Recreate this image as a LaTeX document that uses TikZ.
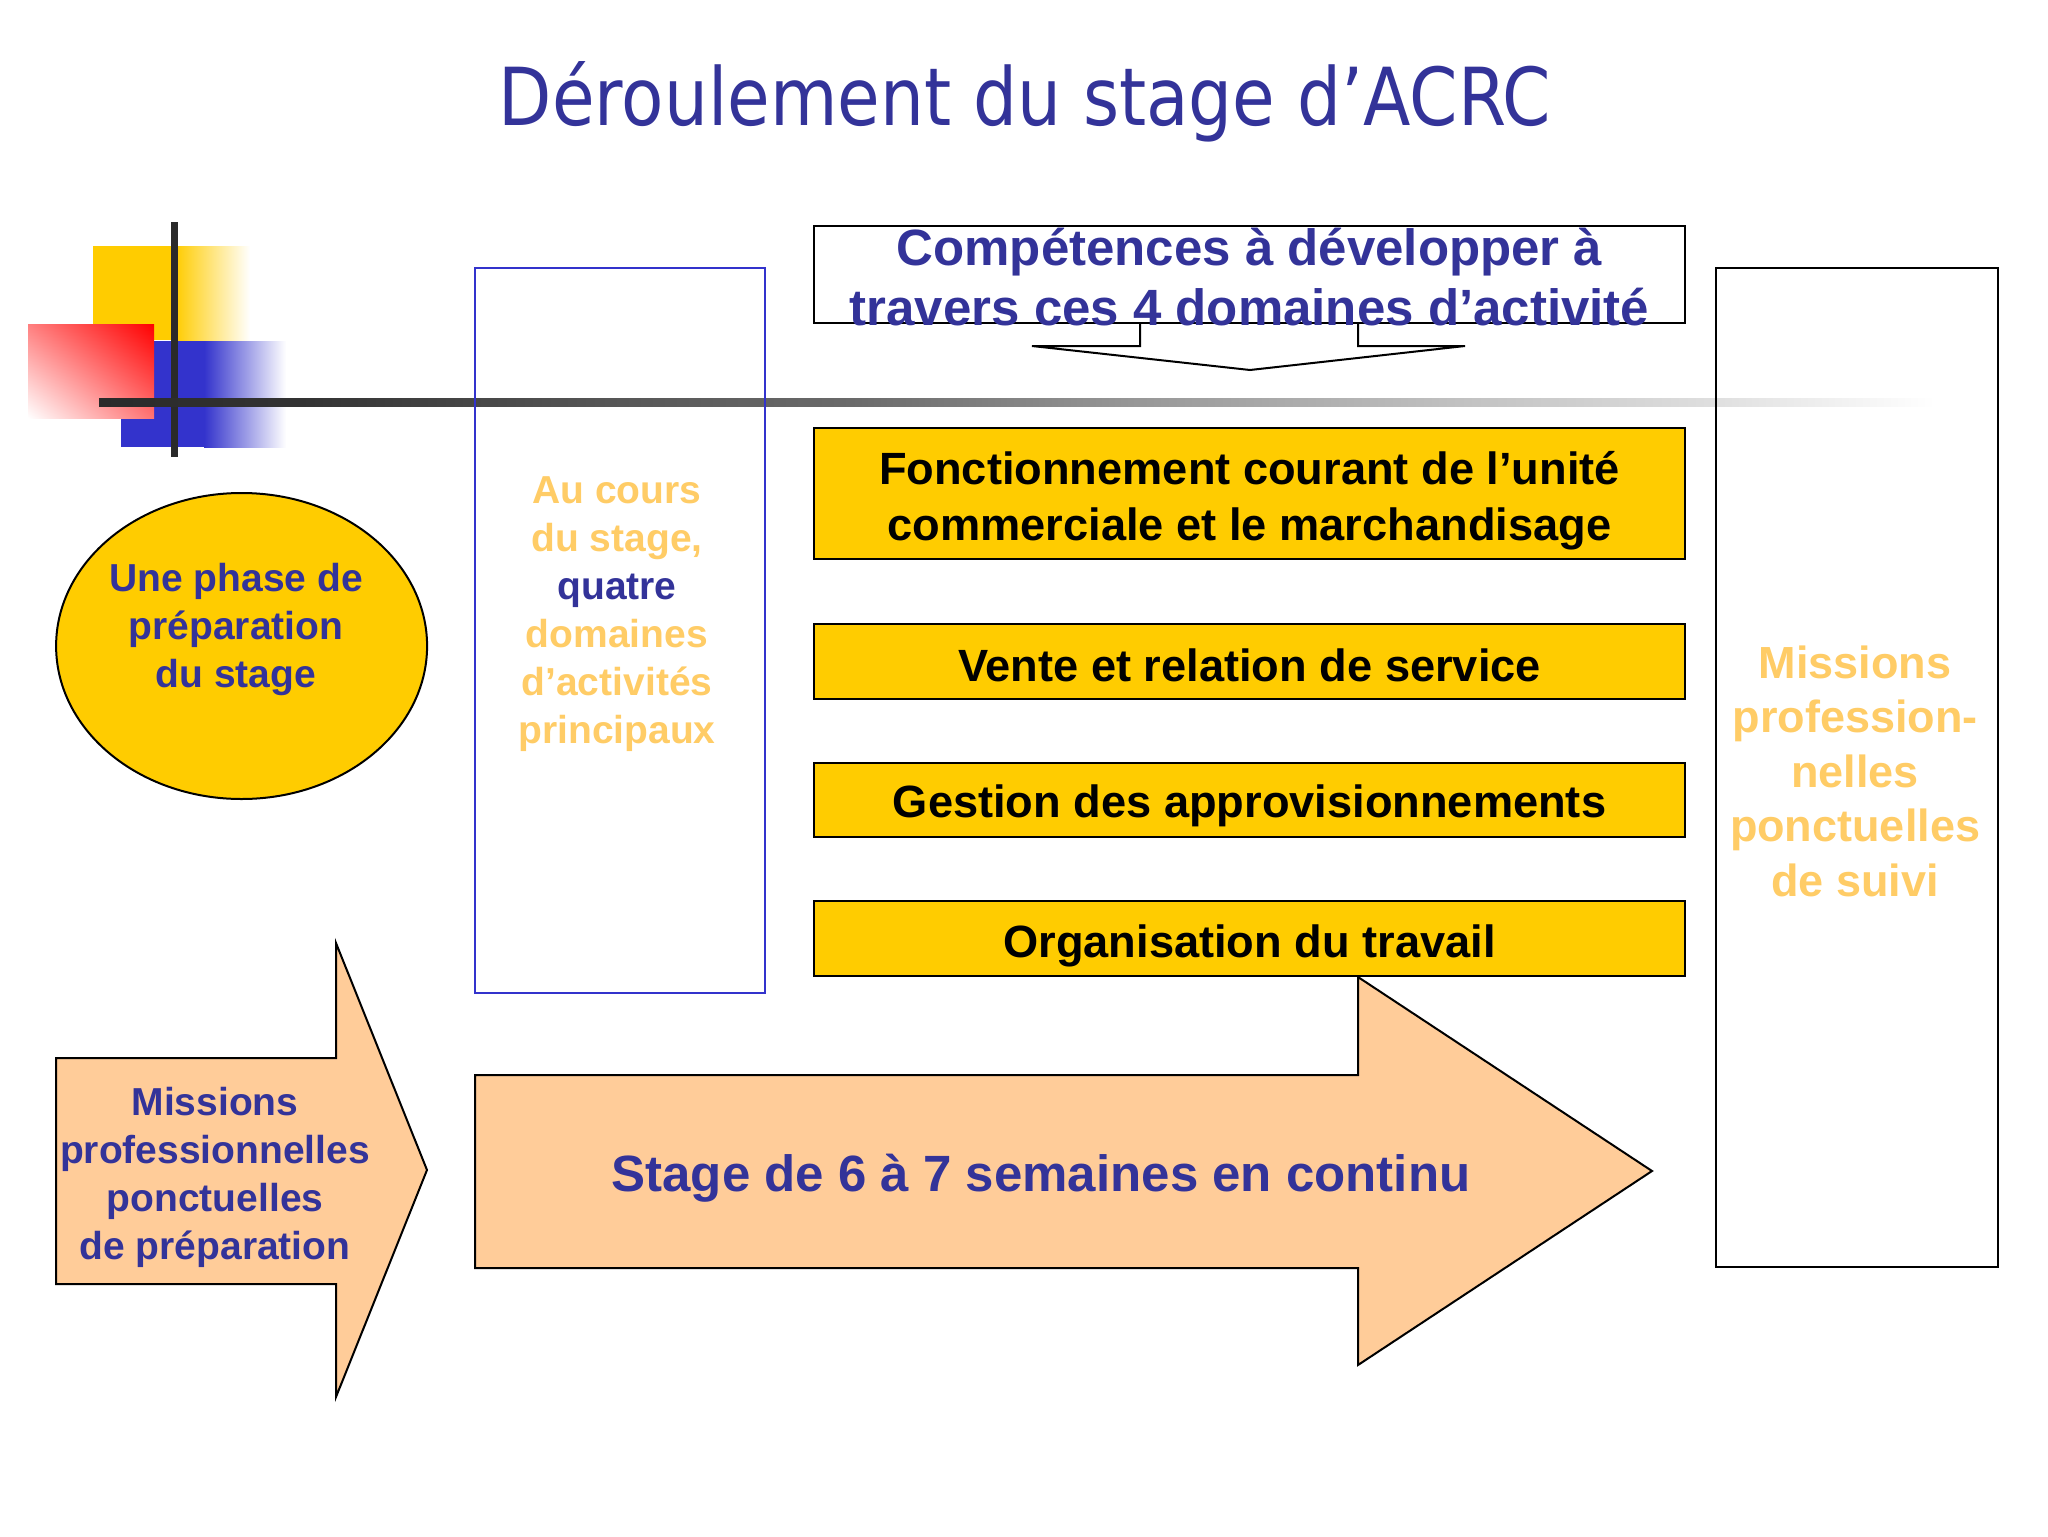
\documentclass[tikz,border=0pt]{standalone}
\usepackage{graphicx}
\usepackage{fontspec}
\setmainfont{Liberation Sans}
\newfontfamily\titlefont{DejaVu Sans}
\usetikzlibrary{shapes.geometric,shadings}
\definecolor{navy}{HTML}{333399}
\definecolor{gold}{HTML}{FFCC00}
\definecolor{lgold}{HTML}{FFCC66}
\definecolor{peach}{HTML}{FFCC99}
\definecolor{boxblue}{HTML}{3333CC}
\definecolor{bar}{HTML}{2A2A2A}
\definecolor{barA}{HTML}{333333}
\definecolor{barB}{HTML}{555555}
\definecolor{barC}{HTML}{6A6A6A}
\definecolor{barD}{HTML}{999999}
\definecolor{barE}{HTML}{C0C0C0}
\definecolor{barF}{HTML}{DDDDDD}
\pgfdeclarehorizontalshading{barshade}{100bp}{color(0bp)=(bar); color(25bp)=(bar); color(30.5bp)=(barA); color(38.6bp)=(barB); color(45.5bp)=(barC); color(53.6bp)=(barD); color(61.8bp)=(barE); color(68.6bp)=(barF); color(75bp)=(white); color(100bp)=(white)}
\tikzset{
  ybox/.style={draw=black, line width=1pt, fill=gold, minimum width=435.5pt, inner sep=0pt},
  ytext/.style={font=\bfseries\fontsize{22.6}{28}\selectfont, text=black, align=center},
  shapeline/.style={draw=black, line width=1pt},
}
\begin{document}
\begin{tikzpicture}[x=0.5pt,y=-0.5pt]
\useasboundingbox (0,0) rectangle (2048,1536);
\fill[white] (0,0) rectangle (2048,1536);

% title
\node[text=navy, font=\titlefont\fontsize{40}{48}\selectfont] (title) at (1025,102) {\scalebox{0.866}[1]{Déroulement du stage d’ACRC}};

% decoration
\fill[gold] (93,246) rectangle (176,340);
\shade[left color=gold, right color=white] (175,246) rectangle (250,340);
\fill[boxblue] (121,341) rectangle (205,447);
\shade[left color=boxblue, right color=white] (204,341) rectangle (286,447);
\shade[upper right=red, lower left=white, upper left=red!50!white, lower right=red!55!white] (28,324) rectangle (154,418);
\draw[bar, line width=3.5pt] (174,222) -- (174,457);
\shade[shading=barshade] (99,398) rectangle (1935,406);

% left column
\node[ellipse, draw=black, line width=1pt, fill=gold, minimum width=185.5pt, minimum height=153pt, inner sep=0pt] (phase) at (241.6,646) {};
\node[text=navy, font=\bfseries\fontsize{19.5}{24}\selectfont, align=center] (phasetxt) at (236,629) {Une phase de\\préparation\\du stage};

\draw[shapeline, fill=peach] (56,1058) -- (336,1058) -- (336,943) -- (427,1170) -- (336,1397) -- (336,1284) -- (56,1284) -- cycle;
\node[text=navy, font=\bfseries\fontsize{19.5}{24}\selectfont, align=center] (mprep) at (215,1177) {Missions\\professionnelles\\ponctuelles\\de préparation};

% blue box
\node[draw=boxblue, line width=1pt, minimum width=145pt, minimum height=362.5pt, inner sep=0pt] (cours) at (620,630.5) {};
\node[text=lgold, font=\bfseries\fontsize{19.5}{24}\selectfont, align=center] (courstxt) at (617,614) {Au cours\\du stage,\\\textcolor{navy}{quatre}\\domaines\\d’activités\\principaux};

% competences
\node[draw=black, line width=1pt, fill=white, minimum width=435.5pt, minimum height=48.5pt, inner sep=0pt] (comp) at (1249.5,274.5) {};
\draw[shapeline] (1140,323) -- (1140,346) -- (1032,346) -- (1250,370) -- (1465,346) -- (1358,346) -- (1358,323);
\node[text=navy, font=\bfseries\fontsize{25.5}{30}\selectfont, align=center] (comptxt) at (1249.5,277) {Compétences à développer à\\travers ces 4 domaines d’activité};

% yellow boxes
\node[ybox, minimum height=65.5pt] (d1) at (1249.5,493.5) {};
\node[ybox, minimum height=37.5pt] (d2) at (1249.5,661.5) {};
\node[ybox, minimum height=37pt] (d3) at (1249.5,800) {};
\node[ybox, minimum height=37.5pt] (d4) at (1249.5,938.5) {};
\node[ytext] (t1) at (1249.5,500.5) {Fonctionnement courant de l’unité\\commerciale et le marchandisage};
\node[ytext] (t2) at (1249.5,665.5) {Vente et relation de service};
\node[ytext] (t3) at (1249.5,806) {Gestion des approvisionnements};
\node[ytext] (t4) at (1249.5,945.5) {Organisation du travail};

% big arrow
\draw[shapeline, fill=peach] (475,1075) -- (1358,1075) -- (1358,977) -- (1652,1171) -- (1358,1365) -- (1358,1268) -- (475,1268) -- cycle;
\node[text=navy, font=\bfseries\fontsize{25.5}{30}\selectfont] (stage) at (1041,1178) {Stage de 6 à 7 semaines en continu};

% right box
\node[draw=black, line width=1.2pt, minimum width=141pt, minimum height=499.5pt, inner sep=0pt] (suivi) at (1857,767.5) {};
\node[text=lgold, font=\bfseries\fontsize{22.5}{27.25}\selectfont, align=center] (suivitxt) at (1855,771) {Missions\\profession-\\nelles\\ponctuelles\\de suivi};
\end{tikzpicture}
\end{document}
